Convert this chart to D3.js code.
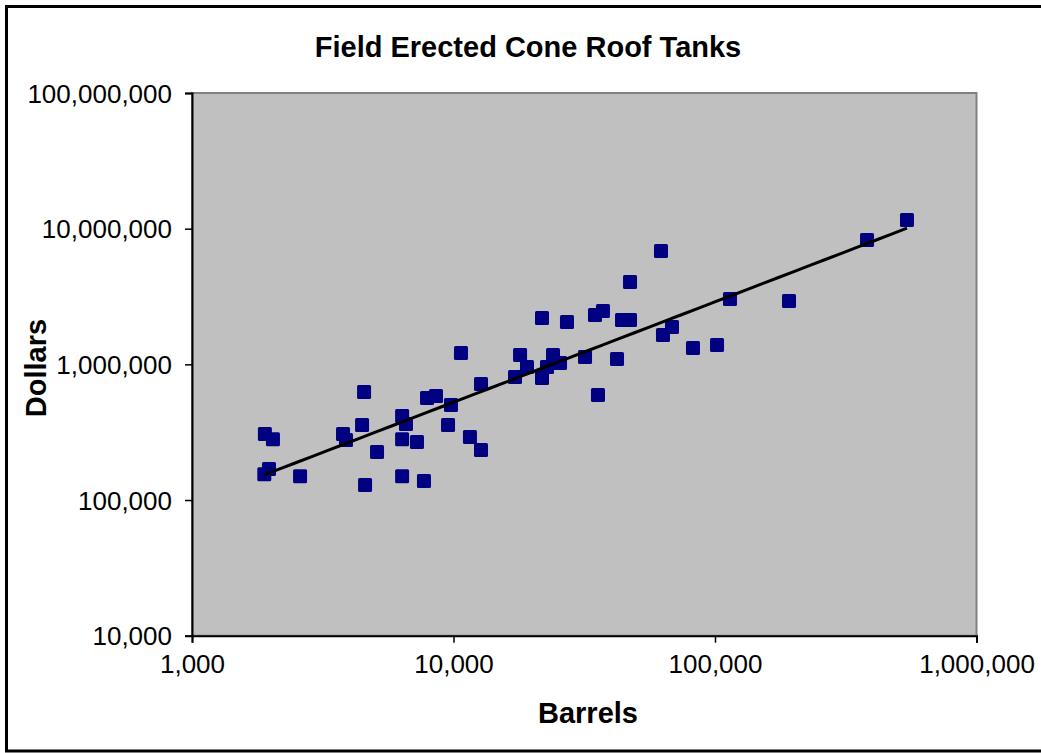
<!DOCTYPE html>
<html>
<head>
<meta charset="utf-8">
<script src="https://cdn.jsdelivr.net/npm/d3@7"></script>
<style>
  html, body { margin: 0; padding: 0; background: #fff; }
  svg { display: block; }
  text { font-family: "Liberation Sans", Arial, sans-serif; fill: #000; }
</style>
</head>
<body>
<svg id="chart" width="1041" height="753"></svg>
<script>
// Tank capacity (barrels) and installed cost (dollars)
const barrels = [
  1900, 2040, 1890, 1970, 2590, 4550, 3780, 3880, 4470, 5100,
  4590, 6360, 6580, 6360, 7250, 6360, 7710, 7920, 8570, 9530,
  10680, 9780, 12740, 11560, 12740, 17970, 19100, 17190, 21800, 24020,
  25550, 22780, 31840, 21800, 27160, 34760, 37290, 44100, 47320, 42200,
  35690, 63250, 68470, 62150, 47320, 82370, 101800, 114100, 191900, 381400,
  542200
];
const dollars = [
  306000, 281000, 155000, 169000, 150000, 625000, 306000, 277000, 357000, 226000,
  129000, 416000, 363000, 281000, 268000, 150000, 138000, 564000, 584000, 357000,
  1211000, 501000, 716000, 291000, 234000, 1171000, 955000, 806000, 792000, 1171000,
  1022000, 955000, 1132000, 2193000, 2049000, 2308000, 2471000, 2120000, 2120000, 1094000,
  594000, 1644000, 1883000, 6839000, 4042000, 1319000, 1388000, 3028000, 2928000, 8241000,
  11570000
];
const xTicks = [1000, 10000, 100000, 1000000];
const yTicks = [10000, 100000, 1000000, 10000000, 100000000];
const titleText = "Field Erected Cone Roof Tanks";
const xTitle = "Barrels";
const yTitle = "Dollars";

const svg = d3.select("#chart");
const W = 1041, H = 753;
const plot = { left: 192, right: 976.5, top: 93, bottom: 635.7 };

// Outer chart frame
svg.append("rect")
  .attr("x", 6.5).attr("y", 6.5)
  .attr("width", W + 10).attr("height", H - 8.5)
  .attr("fill", "#fff").attr("stroke", "#000").attr("stroke-width", 3);

const x = d3.scaleLog().domain([1000, 1000000]).range([plot.left, plot.right]);
const y = d3.scaleLog().domain([10000, 100000000]).range([plot.bottom, plot.top]);
const fmt = d3.format(",");

// Plot area
svg.append("rect")
  .attr("x", plot.left).attr("y", plot.top)
  .attr("width", plot.right - plot.left).attr("height", plot.bottom - plot.top)
  .attr("fill", "#c0c0c0").attr("stroke", "#808080").attr("stroke-width", 2);

// Axes
const xAxis = svg.append("g")
  .attr("transform", `translate(0,${plot.bottom})`)
  .call(d3.axisBottom(x).tickValues(xTicks).tickFormat(fmt).tickSize(7).tickPadding(12));
const yAxis = svg.append("g")
  .attr("transform", `translate(${plot.left},0)`)
  .call(d3.axisLeft(y).tickValues(yTicks).tickFormat(fmt).tickSize(7).tickPadding(13));
[xAxis, yAxis].forEach(g => {
  g.select(".domain").attr("stroke", "#000").attr("stroke-width", 2);
  g.selectAll(".tick line").attr("stroke", "#000").attr("stroke-width", 1.5);
  g.selectAll(".tick text")
    .attr("font-family", "'Liberation Sans', Arial, sans-serif")
    .attr("font-size", 26).attr("fill", "#000");
});
yAxis.selectAll(".tick text").attr("dy", "0.35em");
xAxis.selectAll(".tick text").attr("dy", "0.71em");

// Data points
const pts = barrels.map((b, i) => ({ b, d: dollars[i] }));
const ms = 14;
svg.append("g").selectAll("rect")
  .data(pts).join("rect")
  .attr("x", p => x(p.b) - ms / 2)
  .attr("y", p => y(p.d) - ms / 2)
  .attr("width", ms).attr("height", ms)
  .attr("rx", 1.5)
  .attr("fill", "#000080");

// Power trendline (least squares in log-log space)
const lx = pts.map(p => Math.log10(p.b)), ly = pts.map(p => Math.log10(p.d));
const mx = d3.mean(lx), my = d3.mean(ly);
const slope = d3.sum(lx, (v, i) => (v - mx) * (ly[i] - my)) / d3.sum(lx, v => (v - mx) ** 2);
const icpt = my - slope * mx;
const [bMin, bMax] = d3.extent(barrels);
const trend = d3.range(0, 41).map(k => {
  const lb = Math.log10(bMin) + (Math.log10(bMax) - Math.log10(bMin)) * k / 40;
  return [Math.pow(10, lb), Math.pow(10, icpt + slope * lb)];
});
svg.append("path")
  .attr("d", d3.line().x(d => x(d[0])).y(d => y(d[1]))(trend))
  .attr("fill", "none").attr("stroke", "#000").attr("stroke-width", 3);

// Titles
svg.append("text")
  .attr("x", 528).attr("y", 57)
  .attr("text-anchor", "middle")
  .attr("font-size", 29).attr("font-weight", "bold")
  .text(titleText);
svg.append("text")
  .attr("x", 588).attr("y", 723)
  .attr("text-anchor", "middle")
  .attr("font-size", 29).attr("font-weight", "bold")
  .text(xTitle);
svg.append("text")
  .attr("transform", "translate(46,368) rotate(-90)")
  .attr("text-anchor", "middle")
  .attr("font-size", 29).attr("font-weight", "bold")
  .text(yTitle);
</script>
</body>
</html>
